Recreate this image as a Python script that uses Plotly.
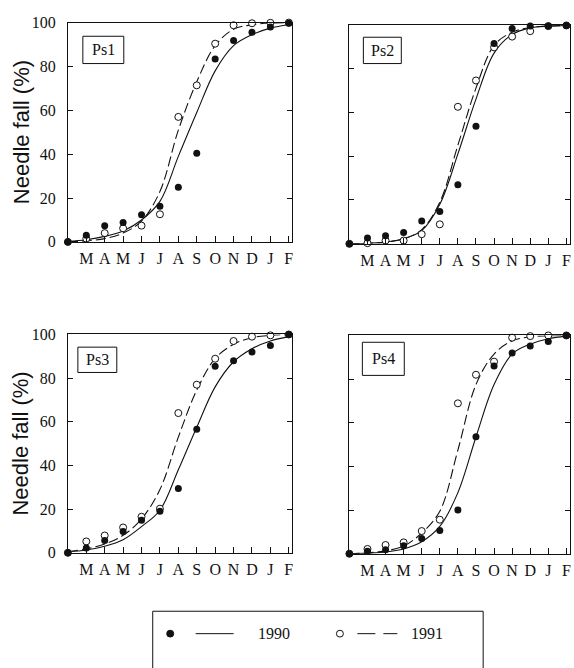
import plotly.graph_objects as go

W, H = 574, 668

month_labels = ["M", "A", "M", "J", "J", "A", "S", "O", "N", "D", "J", "F"]
month_pos = list(range(1, 13))
x_idx = list(range(13))
y_ticks = [0, 20, 40, 60, 80, 100]

# observed needle fall (%)
ps1_obs_1990 = [0, 3, 7.4, 8.9, 12.4, 16.3, 24.9, 40.4, 83.4, 91.9, 95.6, 98, 99.7]
ps1_obs_1991 = [0, 1.5, 4, 6.2, 7.4, 12.6, 57, 71.4, 90.4, 98.8, 99.7, 99.9, 100]
ps2_obs_1990 = [0, 2.7, 3.7, 5.2, 10.4, 14.8, 27, 53.6, 91.4, 98.2, 99.3, 99.3, 99.6]
ps2_obs_1991 = [0, 0.3, 1.5, 1.5, 4.4, 8.9, 62.5, 74.5, 89.6, 94.5, 97, 99.3, 99.6]
ps3_obs_1990 = [0, 2.2, 5.6, 9.7, 14.9, 19, 29.4, 56.6, 85.4, 88, 92, 95, 100]
ps3_obs_1991 = [0, 5.2, 7.9, 11.6, 16.5, 20.2, 64, 77, 88.9, 97, 99, 99.6, 100]
ps4_obs_1990 = [0, 1.2, 1.8, 3.7, 7, 10.7, 20, 53.6, 86, 92, 95.2, 97.2, 100]
ps4_obs_1991 = [0, 2.2, 4, 5.2, 10.4, 15.6, 68.9, 82, 88, 99, 99.7, 100, 100]

# fitted curves read at each month
ps1_fit_1990 = [0.3, 1, 2.5, 5, 10, 18.5, 39, 59, 78, 89.5, 94.5, 97.5, 99]
ps1_fit_1991 = [0, 0.5, 1.5, 4, 9.5, 23, 51, 73, 89.5, 97, 99, 99.8, 100]
ps2_fit_1990 = [0, 0.3, 0.8, 2.3, 6, 18, 41, 66, 87, 95.5, 98.5, 99.3, 99.6]
ps2_fit_1991 = [0, 0.3, 0.8, 2.3, 6.5, 19, 45, 71, 90.5, 96.5, 98.7, 99.3, 99.6]
ps3_fit_1990 = [0.5, 1.3, 3, 6, 12, 19.5, 38, 57.5, 76, 87.5, 93.5, 97, 99]
ps3_fit_1991 = [0.5, 1.8, 4, 8, 15.5, 29, 53, 74.5, 89, 95.5, 98.5, 99.6, 100]
ps4_fit_1990 = [0, 0.3, 0.8, 2.2, 5.5, 12.5, 28, 53.5, 77.5, 91.5, 96, 98.5, 99.7]
ps4_fit_1991 = [0, 0.4, 1.3, 3.5, 9.5, 19.5, 47.5, 77.5, 91.5, 97.5, 99.4, 99.8, 100]

panel_names = ["Ps1", "Ps2", "Ps3", "Ps4"]
obs90 = [ps1_obs_1990, ps2_obs_1990, ps3_obs_1990, ps4_obs_1990]
obs91 = [ps1_obs_1991, ps2_obs_1991, ps3_obs_1991, ps4_obs_1991]
fit90 = [ps1_fit_1990, ps2_fit_1990, ps3_fit_1990, ps4_fit_1990]
fit91 = [ps1_fit_1991, ps2_fit_1991, ps3_fit_1991, ps4_fit_1991]
legend_years = ["1990", "1991"]

# panel pixel boxes: left, right, top, bottom
boxes = [(68, 293, 15, 240), (350, 571, 17, 242), (68, 293, 335, 559), (350, 571, 336, 560)]
label_boxes = [(83, 124, 29, 57), (364, 402, 30, 57), (78, 117, 348, 374), (363, 405, 343, 377)]


def px(x):
    return x / W


def py(y):
    return 1 - y / H


SERIF = "Liberation Serif"
SANS = "Liberation Sans"
BLACK = "#111111"

fig = go.Figure()
shapes = []
annotations = []

for i in range(4):
    n = "" if i == 0 else str(i + 1)
    xa, ya = "x" + n, "y" + n
    l, r, t, b = boxes[i]
    fig.add_trace(go.Scatter(x=x_idx, y=fit90[i], mode="lines", line=dict(color=BLACK, width=1.1, shape="spline", smoothing=1.0),
                             xaxis=xa, yaxis=ya, showlegend=False, hoverinfo="skip"))
    fig.add_trace(go.Scatter(x=x_idx, y=fit91[i], mode="lines", line=dict(color=BLACK, width=1.1, shape="spline", smoothing=1.0, dash="10px,4px"),
                             xaxis=xa, yaxis=ya, showlegend=False, hoverinfo="skip"))
    fig.add_trace(go.Scatter(x=x_idx, y=obs91[i], mode="markers", marker=dict(symbol="circle", size=7, color="white", line=dict(color=BLACK, width=1)),
                             xaxis=xa, yaxis=ya, showlegend=False, cliponaxis=False))
    fig.add_trace(go.Scatter(x=x_idx, y=obs90[i], mode="markers", marker=dict(symbol="circle", size=7, color=BLACK, line=dict(color=BLACK, width=0)),
                             xaxis=xa, yaxis=ya, showlegend=False, cliponaxis=False))
    left_col = i in (0, 2)
    xaxis = dict(domain=[px(l), px(r)], range=[0, 12.2], anchor=ya, showline=True, linecolor=BLACK, linewidth=1, mirror=True,
                 ticks="inside", ticklen=6, tickwidth=1, tickcolor=BLACK, tickvals=month_pos, ticktext=month_labels,
                 tickfont=dict(family=SERIF, size=16, color=BLACK), showgrid=False, zeroline=False, ticklabelstandoff=2, fixedrange=True)
    yaxis = dict(domain=[py(b), py(t)], range=[0, 100], anchor=xa, showline=True, linecolor=BLACK, linewidth=1, mirror="allticks",
                 ticks="inside", ticklen=5, tickwidth=1, tickcolor=BLACK, tickvals=y_ticks, showticklabels=left_col,
                 tickfont=dict(family=SERIF, size=16, color=BLACK), showgrid=False, zeroline=False, ticklabelstandoff=8, fixedrange=True)
    fig.update_layout(**{"xaxis" + n: xaxis, "yaxis" + n: yaxis})

    bl, br, bt, bb = label_boxes[i]
    shapes.append(dict(type="rect", xref="paper", yref="paper", x0=px(bl), x1=px(br), y0=py(bb), y1=py(bt),
                       line=dict(color=BLACK, width=1), fillcolor="white", layer="above"))
    annotations.append(dict(text=panel_names[i], xref="paper", yref="paper", x=px((bl + br) / 2), y=py((bt + bb) / 2),
                            showarrow=False, xanchor="center", yanchor="middle", font=dict(family=SERIF, size=16, color=BLACK)))
    if left_col:
        annotations.append(dict(text="Needle fall (%)", xref="paper", yref="paper", x=px(21), y=py((t + b) / 2),
                                textangle=-90, showarrow=False, xanchor="center", yanchor="middle",
                                font=dict(family=SANS, size=22, color=BLACK)))

# legend box (drawn manually)
leg_top = 619
leg_y = 642
shapes.append(dict(type="rect", xref="paper", yref="paper", x0=px(153), x1=px(484), y0=-0.05, y1=py(leg_top),
                   line=dict(color=BLACK, width=1), fillcolor="rgba(0,0,0,0)"))
shapes.append(dict(type="circle", xref="paper", yref="paper", x0=px(167), x1=px(174), y0=py(leg_y + 3.5), y1=py(leg_y - 3.5),
                   line=dict(color=BLACK, width=1), fillcolor=BLACK))
shapes.append(dict(type="line", xref="paper", yref="paper", x0=px(196), x1=px(234), y0=py(leg_y), y1=py(leg_y),
                   line=dict(color=BLACK, width=1)))
annotations.append(dict(text=legend_years[0], xref="paper", yref="paper", x=px(256), y=py(leg_y), showarrow=False,
                        xanchor="left", yanchor="middle", font=dict(family=SERIF, size=16, color=BLACK)))
shapes.append(dict(type="circle", xref="paper", yref="paper", x0=px(337), x1=px(344), y0=py(leg_y + 3.5), y1=py(leg_y - 3.5),
                   line=dict(color=BLACK, width=1), fillcolor="white"))
shapes.append(dict(type="line", xref="paper", yref="paper", x0=px(358), x1=px(398), y0=py(leg_y), y1=py(leg_y),
                   line=dict(color=BLACK, width=1, dash="18px,8px")))
annotations.append(dict(text=legend_years[1], xref="paper", yref="paper", x=px(410), y=py(leg_y), showarrow=False,
                        xanchor="left", yanchor="middle", font=dict(family=SERIF, size=16, color=BLACK)))

fig.update_layout(width=W, height=H, margin=dict(l=0, r=0, t=0, b=0), paper_bgcolor="white", plot_bgcolor="white",
                  showlegend=False, shapes=shapes, annotations=annotations)

fig.write_html("out.html", config={"displayModeBar": False},
               post_script="document.body.style.margin='0px';document.body.style.overflow='hidden';")
